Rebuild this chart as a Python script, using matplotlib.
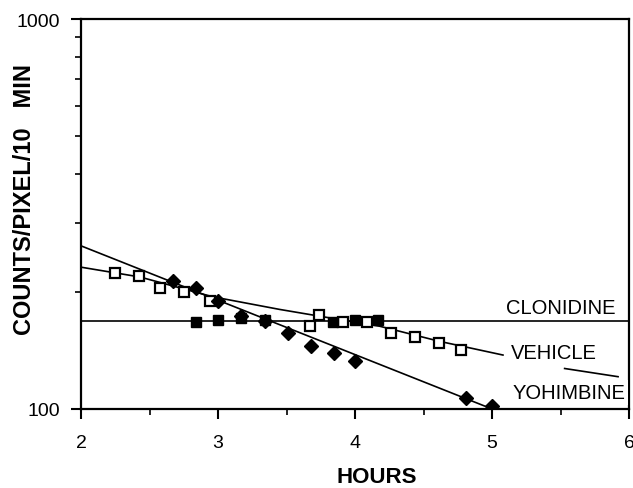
import numpy as np
import matplotlib
matplotlib.use("Agg")
import matplotlib.pyplot as plt
from matplotlib.ticker import FixedLocator, NullFormatter

plt.rcParams['font.family'] = ['Liberation Sans', 'DejaVu Sans']

# clonidine (filled squares)
clon_x = [2.84, 3.0, 3.17, 3.34, 3.84, 4.0, 4.17]
clon_y = [167, 169, 171, 169, 167, 169, 169]
clon_fit_x = [2.0, 6.0]
clon_fit_y = [168, 168]

# vehicle (open squares)
veh_x = [2.25, 2.42, 2.58, 2.75, 2.94, 3.67, 3.74, 3.91, 4.09, 4.26, 4.44, 4.61, 4.77]
veh_y = [223, 219, 204, 200, 189, 163, 174, 167, 167, 157, 153, 148, 142]
veh_fit_x = [2.0, 2.43, 2.96, 3.45, 3.74, 4.18, 4.62, 5.08]
veh_fit_y = [231, 218, 194, 180, 173, 163, 149, 137.5]
veh_tail_x = [5.53, 5.92]
veh_tail_y = [127, 121]

# yohimbine (filled diamonds)
yoh_x = [2.67, 2.84, 3.0, 3.17, 3.34, 3.51, 3.68, 3.85, 4.0, 4.81, 5.0]
yoh_y = [213, 204, 189, 173, 168, 157, 145, 139, 133, 107, 102]
yoh_fit_x = [2.0, 5.0]
yoh_fit_y = [262, 100]

fig = plt.figure(figsize=(6.33, 4.89), dpi=100)
ax = fig.add_axes([0.128, 0.1616, 0.8657, 0.7975])

ax.plot(clon_fit_x, clon_fit_y, color='black', lw=1.2, zorder=2)
ax.plot(veh_fit_x, veh_fit_y, color='black', lw=1.2, zorder=2)
ax.plot(veh_tail_x, veh_tail_y, color='black', lw=1.2, zorder=2)
ax.plot(yoh_fit_x, yoh_fit_y, color='black', lw=1.2, zorder=2)

ax.plot(veh_x, veh_y, ls='none', marker='s', ms=6.5, mfc='white', mec='black', mew=1.6, zorder=3)
ax.plot(clon_x, clon_y, ls='none', marker='s', ms=7.5, mfc='black', mec='black', zorder=4)
ax.plot(yoh_x, yoh_y, ls='none', marker='D', ms=7, mfc='black', mec='black', zorder=4)

ax.set_yscale('log')
ax.set_xlim(2, 6)
ax.set_ylim(100, 1000)

ax.set_xticks([2, 3, 4, 5, 6])
ax.set_xticks([2.5, 3.5, 4.5, 5.5], minor=True)
ax.yaxis.set_major_locator(FixedLocator([100, 1000]))
ax.yaxis.set_minor_locator(FixedLocator([200, 300, 400, 500, 600, 700, 800, 900]))
ax.yaxis.set_minor_formatter(NullFormatter())
ax.set_yticklabels(['100', '1000'])

ax.tick_params(axis='both', which='major', direction='out', length=7, width=1.5, labelsize=14)
ax.tick_params(axis='both', which='minor', direction='out', length=4, width=1.2)
ax.tick_params(axis='x', pad=11)
ax.tick_params(axis='y', pad=8)

for s in ax.spines.values():
    s.set_linewidth(1.6)

ax.set_xlabel('HOURS', fontsize=16, fontweight='bold')
ax.xaxis.set_label_coords(0.54, -0.173)
ax.xaxis.label.set_va('center')
ax.set_ylabel('COUNTS/PIXEL/10   MIN', fontsize=17, fontweight='bold')
ax.yaxis.set_label_coords(-0.104, 0.54)
ax.yaxis.label.set_va('center')

lab = dict(fontsize=14.5, ha='left', va='center', zorder=6, clip_on=False)
ax.text(5.10, 182, 'CLONIDINE', **lab)
ax.text(5.14, 139.6, 'VEHICLE', **lab)
ax.text(5.15, 110.2, 'YOHIMBINE', bbox=dict(facecolor='white', edgecolor='none', pad=2), **lab)

fig.savefig('out.png', dpi=100)
